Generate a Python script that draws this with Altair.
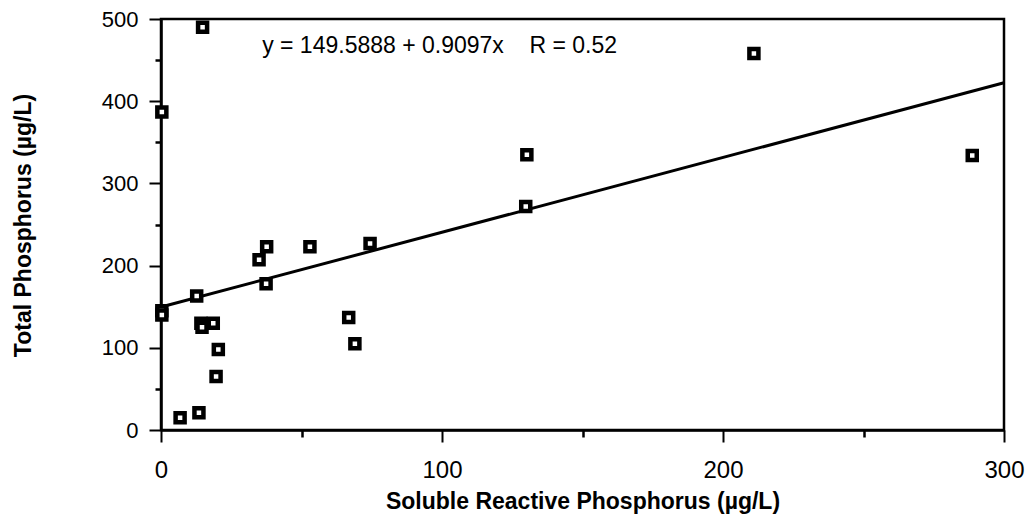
import altair as alt
import pandas as pd

# Soluble reactive phosphorus (x) vs total phosphorus (y), µg/L
srp = [14.8, 0.3, 211.0, 288.7, 130.2, 129.8, 37.6, 34.9, 37.4, 53.0, 74.4,
       12.7, 0.3, 0.3, 14.2, 14.6, 18.6, 20.4, 19.6, 6.8, 13.5, 66.8, 69.0]
tp = [490, 387, 458, 334, 335, 272, 223, 207, 178, 223, 227,
      163, 145, 140, 130, 125, 130, 98, 65, 15, 21, 137, 105]

intercept = 149.5888
slope = 0.9097
fit_x = [0, 300]

ann_x = [36]
ann_y = [467]
ann_text = ["y = 149.5888 + 0.9097x\u00a0\u00a0\u00a0\u00a0R = 0.52"]

pts = pd.DataFrame({"x": srp, "y": tp})
fit = pd.DataFrame({"x": fit_x, "y": [intercept + slope * v for v in fit_x]})
ann = pd.DataFrame({"x": ann_x, "y": ann_y, "t": ann_text})

FONT = "Liberation Sans"
xscale = alt.Scale(domain=[0, 300], nice=False)
yscale = alt.Scale(domain=[0, 500], nice=False)

x_major = alt.Axis(
    values=[0, 100, 200, 300], orient="bottom", title="Soluble Reactive Phosphorus (µg/L)",
    tickSize=12, tickWidth=2, tickColor="black", domainColor="black", domainWidth=2.5,
    labelFont=FONT, labelFontSize=24, labelColor="black", labelPadding=16,
    labelFlush=False, titleFont=FONT, titleFontSize=23, titleFontWeight="bold",
    titleColor="black", titleY=71, titleBaseline="middle", grid=False,
)
y_major = alt.Axis(
    values=[0, 100, 200, 300, 400, 500], orient="left", title="Total Phosphorus (µg/L)",
    tickSize=12, tickWidth=2, tickColor="black", domainColor="black", domainWidth=2.5,
    labelFont=FONT, labelFontSize=22, labelColor="black", labelPadding=11,
    labelFlush=False, titleFont=FONT, titleFontSize=23, titleFontWeight="bold",
    titleColor="black", titleX=-138, titleY=206, titleAngle=-90,
    titleAlign="center", titleBaseline="middle", grid=False,
)
x_minor = alt.Axis(
    values=[50, 150, 250], orient="bottom", title=None, labels=False,
    tickSize=7, tickWidth=2.5, tickColor="black", domain=False, grid=False,
)
y_minor = alt.Axis(
    values=[50, 150, 250, 350, 450], orient="left", title=None, labels=False,
    tickSize=6, tickWidth=2.5, tickColor="black", domain=False, grid=False,
)

points = alt.Chart(pts).mark_square(
    size=81, filled=True, fill="white", stroke="black", strokeWidth=4.5, opacity=1
).encode(
    x=alt.X("x:Q", scale=xscale, axis=x_major),
    y=alt.Y("y:Q", scale=yscale, axis=y_major),
)

line = alt.Chart(fit).mark_line(color="black", strokeWidth=3).encode(
    x=alt.X("x:Q", scale=xscale, axis=x_minor),
    y=alt.Y("y:Q", scale=yscale, axis=y_minor),
)

text = alt.Chart(ann).mark_text(
    align="left", baseline="middle", font=FONT, fontSize=23, color="black"
).encode(
    x=alt.X("x:Q", scale=xscale, axis=None),
    y=alt.Y("y:Q", scale=yscale, axis=None),
    text="t:N",
)

chart = (
    alt.layer(line, points, text)
    .resolve_scale(x="shared", y="shared")
    .resolve_axis(x="independent", y="independent")
    .properties(
        width=843, height=411,
        autosize=alt.AutoSizeParams(type="none"),
        padding={"left": 153, "top": 11, "right": 22, "bottom": 84},
        background="white",
    )
    .configure_view(stroke="black", strokeWidth=2.5)
)

chart.save("out.html", embed_options={"renderer": "svg", "actions": False})
